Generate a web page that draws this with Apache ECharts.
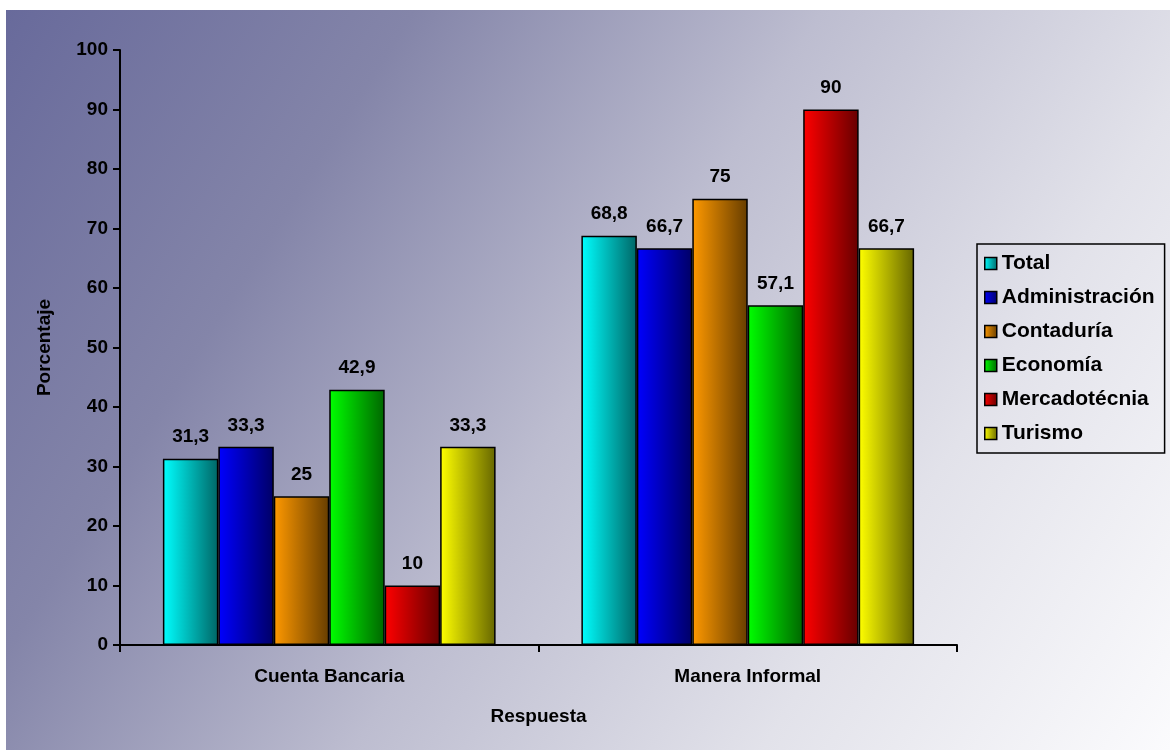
<!DOCTYPE html>
<html lang="es">
<head>
    <meta charset="UTF-8">
    <title>Respuesta</title>
    <script src="https://cdn.jsdelivr.net/npm/echarts@6/dist/echarts.min.js"></script>
    <style>
        body { margin: 0; background: #fff; }
    </style>
</head>
<body>
<div id="main" style="width: 1170px;height:750px;"></div>
<script>
    var categories = ['Cuenta Bancaria', 'Manera Informal'];
    var seriesNames = ['Total', 'Administración', 'Contaduría', 'Economía', 'Mercadotécnia', 'Turismo'];
    var total = [31.3, 68.8];
    var administracion = [33.3, 66.7];
    var contaduria = [25, 75];
    var economia = [42.9, 57.1];
    var mercadotecnia = [10, 90];
    var turismo = [33.3, 66.7];
    var yTicks = [0, 10, 20, 30, 40, 50, 60, 70, 80, 90, 100];

    var values = [total, administracion, contaduria, economia, mercadotecnia, turismo];
    var light = ['#00ffff', '#0000ff', '#ff9900', '#00ff00', '#ff0000', '#ffff00'];
    var dark = ['#006666', '#000066', '#663d00', '#006600', '#660000', '#666600'];

    var font = 'Arial, "Liberation Sans", sans-serif';
    var myChart = echarts.init(document.getElementById('main'));

    function grad(i) {
        return new echarts.graphic.LinearGradient(0, 0, 1, 0, [
            {offset: 0, color: light[i]},
            {offset: 1, color: dark[i]}
        ]);
    }

    var series = [];
    for (var i = 0; i < seriesNames.length; i++) {
        series.push({
            name: seriesNames[i],
            type: 'bar',
            barGap: '0%',
            barCategoryGap: '20.5%',
            data: values[i],
            itemStyle: {
                color: grad(i),
                borderColor: '#000',
                borderWidth: 1.5
            },
            label: {
                show: true,
                position: 'top',
                distance: 12,
                fontFamily: font,
                fontWeight: 'bold',
                fontSize: 19,
                color: '#000',
                formatter: function (p) {
                    return String(p.value).replace('.', ',');
                }
            }
        });
    }

    var option = {
        animation: false,
        graphic: [{
            type: 'rect',
            z: -10,
            silent: true,
            shape: {x: 6, y: 10, width: 1164, height: 740},
            style: {
                fill: new echarts.graphic.LinearGradient(0, 0, 1, 1, [
                    {offset: 0, color: '#686a9b'},
                    {offset: 0.25, color: '#8485a9'},
                    {offset: 0.5, color: '#bdbdd0'},
                    {offset: 0.75, color: '#e2e2ea'},
                    {offset: 1, color: '#fbfbfd'}
                ])
            }
        }],
        grid: {left: 120, right: 213, top: 50, bottom: 105},
        legend: {
            orient: 'vertical',
            left: 977,
            top: 244,
            data: seriesNames,
            icon: 'rect',
            itemWidth: 12,
            itemHeight: 12,
            itemGap: 13,
            itemStyle: {borderColor: '#000', borderWidth: 1.5},
            padding: [9, 10, 9, 7],
            borderColor: '#000',
            borderWidth: 1.5,
            textStyle: {
                fontFamily: font,
                fontWeight: 'bold',
                fontSize: 21,
                color: '#000'
            }
        },
        xAxis: {
            type: 'category',
            data: categories,
            name: 'Respuesta',
            nameLocation: 'middle',
            nameGap: 62,
            nameTextStyle: {fontFamily: font, fontWeight: 'bold', fontSize: 19, color: '#000'},
            axisLine: {lineStyle: {color: '#000', width: 2}},
            axisTick: {show: true, length: 7, lineStyle: {color: '#000', width: 2}},
            axisLabel: {fontFamily: font, fontWeight: 'bold', fontSize: 19, color: '#000', margin: 22}
        },
        yAxis: {
            type: 'value',
            min: yTicks[0],
            max: yTicks[yTicks.length - 1],
            interval: 10,
            name: 'Porcentaje',
            nameLocation: 'middle',
            nameGap: 66,
            nameTextStyle: {fontFamily: font, fontWeight: 'bold', fontSize: 19, color: '#000'},
            axisLine: {show: true, lineStyle: {color: '#000', width: 2}},
            axisTick: {show: true, length: 7, lineStyle: {color: '#000', width: 2}},
            splitLine: {show: false},
            axisLabel: {fontFamily: font, fontWeight: 'bold', fontSize: 19, color: '#000', margin: 12}
        },
        series: series
    };
    myChart.setOption(option);
</script>
</body>
</html>
